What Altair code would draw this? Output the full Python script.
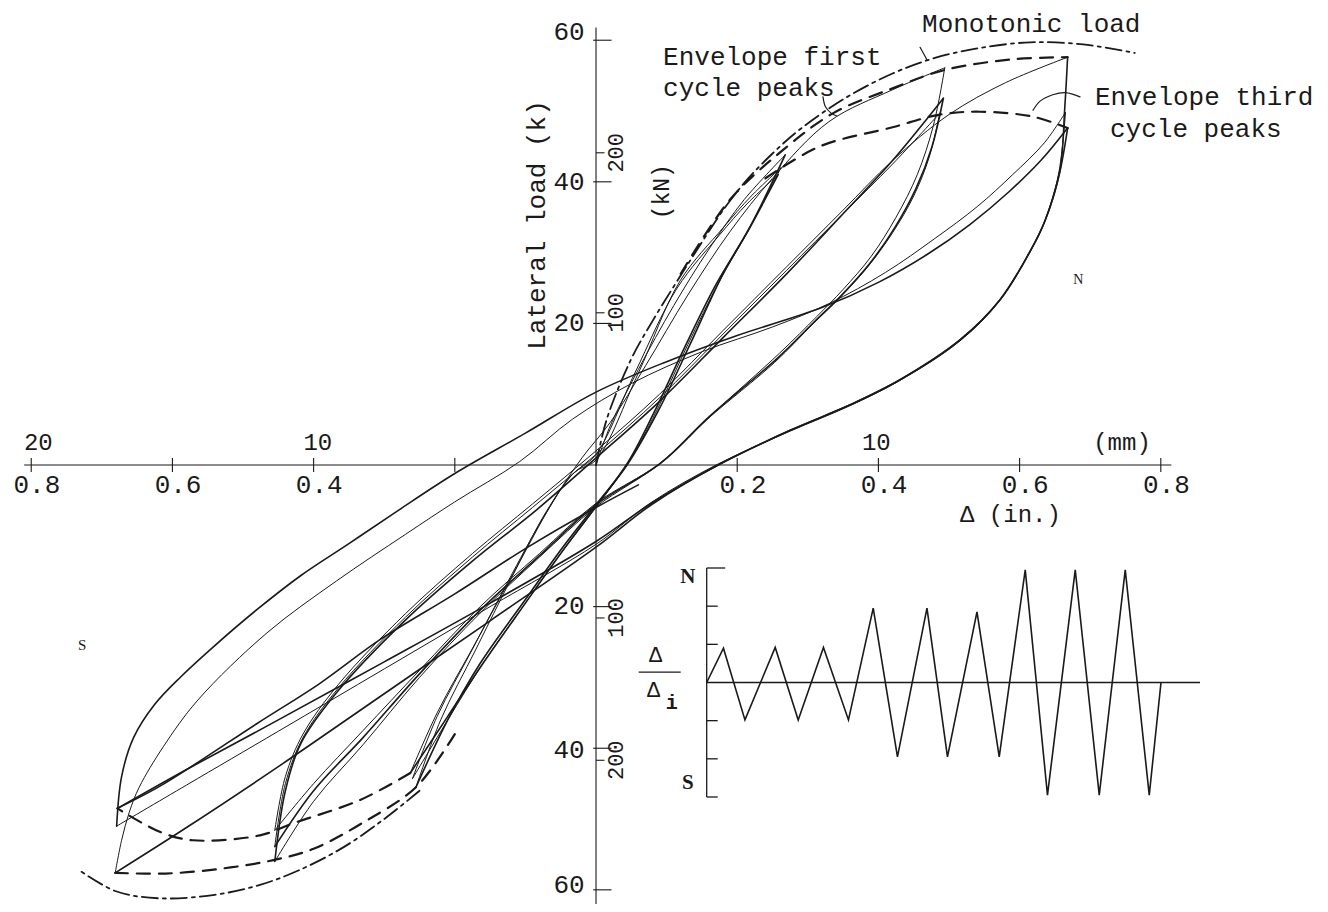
import altair as alt
import pandas as pd

# ---------------- data (inches, kips) ----------------
# hysteresis branches: (name, style, displacement [in], load [kips])
branches = [
    ("s_up1", "thin", [0, 0.02, 0.06, 0.11, 0.16, 0.21, 0.268],
                      [0, 5.5, 13.5, 22.5, 30.5, 37.5, 43.8]),
    ("s_dn1", "thick", [0.268, 0.22, 0.18, 0.133, 0.09, 0.044, 0, -0.05, -0.1, -0.164, -0.21, -0.255],
                       [43.8, 34, 27, 17, 8, 0, -5.6, -12, -19, -28, -36, -45.5]),
    ("s_up2", "thin", [-0.255, -0.22, -0.17, -0.12, -0.07, -0.03, 0, 0.06, 0.119, 0.18, 0.22, 0.262],
                      [-45.5, -36, -26, -16, -6.5, -1, 0.7, 13, 26, 33.5, 38, 42]),
    ("s_dn2", "thin", [0.262, 0.215, 0.175, 0.13, 0.09, 0.05, 0, -0.05, -0.1, -0.16, -0.21, -0.26],
                      [42, 33, 26, 17, 8.5, 1, -6, -12.5, -19.5, -28, -36, -44.3]),
    ("s_up3", "thin", [-0.26, -0.225, -0.175, -0.125, -0.075, -0.035, 0, 0.055, 0.115, 0.175, 0.215, 0.258],
                      [-44.3, -35.5, -26, -16.5, -7.5, -1.5, 1.5, 13, 25, 32.5, 37, 41]),
    ("s_dn3", "thick", [0.258, 0.212, 0.17, 0.125, 0.085, 0.046, 0, -0.05, -0.1, -0.16, -0.21, -0.263],
                       [41, 32.5, 25.5, 16.5, 8, 0.5, -5.8, -12.5, -19.5, -28, -35.5, -43.5]),
    ("m_up1", "thin", [-0.263, -0.225, -0.17, -0.11, -0.06, -0.02, 0.02, 0.07, 0.13, 0.19, 0.25, 0.33, 0.42, 0.494],
                      [-43.5, -35, -25, -14, -5, 1, 6, 14, 24, 33, 40.5, 48.5, 53, 56.1]),
    ("m_dn1", "thin", [0.494, 0.478, 0.455, 0.425, 0.39, 0.35, 0.313, 0.26, 0.166, 0.095, 0, -0.08, -0.164, -0.25, -0.33, -0.4, -0.455],
                      [56.1, 48, 41, 35, 29.5, 24.8, 21, 15.8, 7.3, 0.5, -5.9, -13, -20.9, -30, -39.5, -47.5, -56]),
    ("m_up2", "thick", [-0.455, -0.44, -0.418, -0.368, -0.27, -0.173, -0.085, 0, 0.09, 0.18, 0.27, 0.35, 0.42, 0.492],
                       [-56, -46, -39.3, -32.2, -21.9, -13.4, -6.4, 1, 9, 18, 27, 35.5, 43, 51.8]),
    ("m_dn2", "thick", [0.492, 0.476, 0.453, 0.423, 0.388, 0.348, 0.31, 0.256, 0.16, 0.092, 0, -0.08, -0.164, -0.25, -0.33, -0.4, -0.455],
                       [51.8, 45, 39, 33.5, 28.5, 24, 20.3, 15, 6.8, 0.3, -5.6, -12.8, -20.5, -29.5, -38.5, -46, -53.9]),
    ("m_up3", "thin", [-0.455, -0.44, -0.415, -0.365, -0.27, -0.175, -0.09, 0, 0.09, 0.18, 0.27, 0.35, 0.42, 0.487],
                      [-53.9, -45, -38.5, -31.5, -21.5, -13, -6, 1.5, 9.5, 18.5, 27.5, 35.5, 42.5, 49.7]),
    ("m_dn3", "thin", [0.487, 0.472, 0.45, 0.42, 0.385, 0.345, 0.308, 0.253, 0.158, 0.09, 0, -0.08, -0.164, -0.25, -0.33, -0.4, -0.455],
                      [49.7, 43.5, 38, 32.8, 28, 23.6, 20, 14.5, 6.5, 0.2, -5.4, -12.5, -20, -29, -37.5, -45, -51.6]),
    ("l_up1", "thin", [-0.455, -0.44, -0.415, -0.365, -0.27, -0.175, -0.09, 0, 0.09, 0.18, 0.27, 0.35, 0.42, 0.5, 0.58, 0.668],
                      [-51.6, -44, -38, -31, -21, -12.5, -5.5, 2, 10, 19, 28, 36, 43, 49.5, 54, 57.6]),
    ("l_dn1", "thick", [0.668, 0.664, 0.657, 0.636, 0.615, 0.572, 0.516, 0.43, 0.36, 0.275, 0.173, 0.08, 0, -0.15, -0.3, -0.45, -0.58, -0.681],
                       [57.6, 50.5, 41.5, 34.5, 30.2, 23.3, 17.7, 12, 8.5, 4.9, 0, -5.5, -11.6, -22, -32.3, -42.6, -51.2, -57.6]),
    ("l_up2", "thin", [-0.681, -0.672, -0.661, -0.647, -0.613, -0.564, -0.466, -0.368, -0.27, -0.2, -0.108, -0.033, 0.05, 0.15, 0.25, 0.33, 0.41, 0.48, 0.54, 0.59, 0.635, 0.665],
                      [-57.6, -53, -49, -45.5, -39.8, -33.2, -23.7, -16.4, -9.8, -5.2, 0.5, 6.5, 11.5, 16, 19.5, 22.8, 27.2, 32, 36.5, 41, 45.5, 49.8]),
    ("l_dn2", "thin", [0.665, 0.655, 0.634, 0.613, 0.57, 0.514, 0.428, 0.358, 0.273, 0.17, 0.078, 0, -0.15, -0.3, -0.45, -0.58, -0.679],
                      [49.8, 41, 34, 29.8, 23, 17.4, 11.8, 8.3, 4.7, 0, -5.3, -11.2, -20, -28.8, -37.6, -45.2, -51]),
    ("l_up3", "thick", [-0.679, -0.672, -0.655, -0.625, -0.588, -0.54, -0.48, -0.418, -0.35, -0.28, -0.2, -0.1, 0, 0.1, 0.2, 0.319, 0.4, 0.47, 0.53, 0.585, 0.63, 0.668],
                       [-51, -44, -38.5, -33.8, -29.9, -25.5, -20.4, -15.6, -11.1, -6.4, -1.2, 4.5, 10.3, 14.6, 18.3, 22.2, 25.8, 29.8, 34.0, 38.6, 43.0, 47.6]),
    ("l_dn3", "thick", [0.668, 0.656, 0.636, 0.615, 0.572, 0.516, 0.43, 0.36, 0.275, 0.173, 0.08, 0, -0.15, -0.3, -0.45, -0.58, -0.678],
                       [47.6, 41, 34.5, 30.2, 23.3, 17.7, 12, 8.5, 4.9, 0, -5.3, -10.8, -19.5, -27.8, -36, -43, -48.5]),
    ("final", "thick", [-0.678, -0.62, -0.564, -0.48, -0.392, -0.305, -0.2, -0.1, 0, 0.06],
                       [-48.5, -45.5, -42, -36.5, -30.9, -24.6, -18.2, -11.8, -6, -2.8]),
]

# envelopes and monotonic curve
mono_pos_d = [0, 0.015, 0.05, 0.081, 0.115, 0.147, 0.18, 0.214, 0.25, 0.29, 0.356, 0.42, 0.48, 0.544, 0.615, 0.69, 0.763]
mono_pos_P = [0, 6.4, 15, 20.5, 26, 31, 36, 40.3, 44, 47.5, 52, 55.3, 57.5, 58.9, 59.7, 59.4, 58.2]
mono_neg_d = [-0.25, -0.3, -0.358, -0.42, -0.476, -0.54, -0.618, -0.68, -0.731]
mono_neg_P = [-46, -50, -54, -57.2, -59.3, -60.7, -61.2, -60.2, -57.3]
env1_pos_d = [0.12, 0.19, 0.265, 0.336, 0.42, 0.494, 0.59, 0.668]
env1_pos_P = [27, 37.5, 44.5, 49.7, 53.2, 55.8, 57.3, 57.6]
env3_pos_d = [0.24, 0.317, 0.42, 0.487, 0.544, 0.619, 0.668]
env3_pos_P = [40.5, 45, 47.7, 49.5, 49.9, 49.2, 47.6]
env1_neg_d = [-0.2, -0.255, -0.33, -0.40, -0.457, -0.53, -0.61, -0.681]
env1_neg_P = [-38, -45.5, -50.5, -54.2, -55.8, -57.0, -57.7, -57.6]
env3_neg_d = [-0.263, -0.334, -0.429, -0.476, -0.571, -0.618, -0.678]
env3_neg_P = [-43.5, -47.3, -50.6, -52.3, -53, -51.8, -48.5]

# leader lines of the annotations
lead_mono_d = [0.459, 0.469]
lead_mono_P = [59.0, 57.2]
lead_first_d = [0.3215, 0.325, 0.333, 0.341]
lead_first_P = [52.0, 50.6, 49.7, 49.3]
lead_third_d = [0.6856, 0.665, 0.647, 0.629, 0.619]
lead_third_P = [52.0, 52.6, 52.3, 51.4, 50.1]

# axes
x_ticks = [-0.8, -0.6, -0.4, -0.2, 0.2, 0.4, 0.6, 0.8]
x_labels = ["0.8", "0.6", "0.4", "", "0.2", "0.4", "0.6", "0.8"]
y_ticks = [60, 40, 20, -20, -40, -60]
y_labels = ["60", "40", "20", "20", "40", "60"]
y_label_pos = [61.2, 40, 20, -19.9, -40.3, -59.3]
kn_labels = ["200", "100", "100", "200"]
kn_pos = [44.1, 21.5, -21.6, -41.7]
mm_labels = ["20", "10", "10", "(mm)"]
mm_pos_in = [-0.79, -0.394, 0.397, 0.745]

# inset: loading history
hist_t = [0, 0.67, 1.53, 2.74, 3.66, 4.67, 5.67, 6.66, 7.63, 8.81, 9.63, 10.81, 11.7,
          12.74, 13.63, 14.74, 15.7, 16.74, 17.7, 18.17]
hist_v = [0, 0.9, -0.98, 0.92, -0.98, 0.92, -0.98, 1.95, -1.95, 1.95, -1.95, 1.85, -1.95,
          2.95, -2.95, 2.95, -2.95, 2.95, -2.95, 0]
bracket_ticks = [3, 2, 1, -1, -2, -3]
bracket_len = [0.74, 0.44, 0.44, 0.44, 0.44, 0.44]

# ---------------- build tables ----------------
rows = []
for name, style, ds, ps in branches:
    for i, (d, p) in enumerate(zip(ds, ps)):
        rows.append(dict(seg=name, style=style, i=i, d=d, P=p))
curves = [("mono_p", "mono", mono_pos_d, mono_pos_P), ("mono_n", "mono", mono_neg_d, mono_neg_P),
          ("e1p", "env", env1_pos_d, env1_pos_P), ("e3p", "env", env3_pos_d, env3_pos_P),
          ("e1n", "env", env1_neg_d, env1_neg_P), ("e3n", "env", env3_neg_d, env3_neg_P),
          ("lm", "lead", lead_mono_d, lead_mono_P), ("lf", "lead", lead_first_d, lead_first_P),
          ("lt", "lead", lead_third_d, lead_third_P)]
for name, style, ds, ps in curves:
    for i, (d, p) in enumerate(zip(ds, ps)):
        rows.append(dict(seg=name, style=style, i=i, d=d, P=p))
df = pd.DataFrame(rows)

X = alt.Scale(domain=[-0.8329, 1.0255], nice=False, zero=False)
Y = alt.Scale(domain=[-62.0, 64.55], nice=False, zero=False)
INK = "#1a1a1a"
FONT = "Liberation Mono"


def line_layer(style, width, dash=None):
    kw = dict(color=INK, strokeWidth=width, interpolate="catmull-rom", strokeCap="round")
    if dash:
        kw["strokeDash"] = dash
    return alt.Chart(df[df["style"] == style]).mark_line(**kw).encode(
        x=alt.X("d:Q", scale=X, axis=None),
        y=alt.Y("P:Q", scale=Y, axis=None),
        detail="seg:N",
        order="i:Q",
    )


layers = [
    line_layer("thin", 1.0),
    line_layer("thick", 1.6),
    line_layer("env", 2.2, [13, 9]),
    line_layer("mono", 1.8, [16, 5, 3, 5]),
    line_layer("lead", 1.2),
]

# axis lines and ticks
rules = pd.DataFrame([
    dict(d=-0.81, d2=0.815, P=0, P2=0),
    dict(d=0, d2=0, P=-62, P2=61.8),
] + [dict(d=t, d2=t, P=-1.0, P2=1.0) for t in x_ticks]
  + [dict(d=-0.004, d2=0.022, P=t, P2=t) for t in y_ticks]
  + [dict(d=0.0, d2=0.012, P=p, P2=p) for p in kn_pos])
layers.append(alt.Chart(rules).mark_rule(color=INK, strokeWidth=1.1).encode(
    x=alt.X("d:Q", scale=X, axis=None), x2="d2:Q",
    y=alt.Y("P:Q", scale=Y, axis=None), y2="P2:Q"))


def text_layer(tdf, size, align="center", baseline="middle", angle=0, font=FONT, weight="normal"):
    return alt.Chart(tdf).mark_text(font=font, fontSize=size, align=align, baseline=baseline,
                                    angle=angle, color=INK, fontWeight=weight).encode(
        x=alt.X("d:Q", scale=X, axis=None),
        y=alt.Y("P:Q", scale=Y, axis=None),
        text="t:N")


xl = pd.DataFrame(dict(d=[t + 0.008 for t in x_ticks], P=[-1.0] * len(x_ticks), t=x_labels))
xl = xl[xl["t"] != ""]
layers.append(text_layer(xl, 26, baseline="top"))
yl = pd.DataFrame(dict(d=[-0.016] * len(y_labels), P=y_label_pos, t=y_labels))
layers.append(text_layer(yl, 26, align="right"))
kl = pd.DataFrame(dict(d=[0.029] * len(kn_labels), P=kn_pos, t=kn_labels))
layers.append(text_layer(kl, 22, angle=270))
ml = pd.DataFrame(dict(d=mm_pos_in, P=[3.1] * len(mm_labels), t=mm_labels))
layers.append(text_layer(ml, 24))

layers.append(text_layer(pd.DataFrame(dict(d=[-0.0836], P=[33.9], t=["Lateral load (k)"])), 26, angle=270))
layers.append(text_layer(pd.DataFrame(dict(d=[0.0935], P=[38.6], t=["(kN)"])), 23, angle=270))
layers.append(text_layer(pd.DataFrame(dict(d=[0.5156], P=[-5.3], t=["Δ (in.)"])), 24,
                         align="left", baseline="top"))
ann = pd.DataFrame(dict(d=[0.095, 0.095, 0.4618, 0.7068, 0.728],
                        P=[57.6, 53.2, 62.3, 52.0, 47.5],
                        t=["Envelope first", "cycle peaks", "Monotonic load", "Envelope third", "cycle peaks"]))
layers.append(text_layer(ann, 26, align="left"))
layers.append(text_layer(pd.DataFrame(dict(d=[0.683], P=[26.1], t=["N"])), 14, font="Liberation Serif"))
layers.append(text_layer(pd.DataFrame(dict(d=[-0.728], P=[-25.4], t=["S"])), 15, font="Liberation Serif"))

# ---------------- inset (own scales placed in the plot area) ----------------
TX = alt.Scale(domain=[0, 19.73], range=[698.7, 1192], nice=False, zero=False)
TY = alt.Scale(domain=[-3, 3], range=[789, 560], nice=False, zero=False)
hist = pd.DataFrame(dict(t=hist_t, v=hist_v, i=list(range(len(hist_t)))))
layers.append(alt.Chart(hist).mark_line(color=INK, strokeWidth=1.6).encode(
    x=alt.X("t:Q", scale=TX, axis=None), y=alt.Y("v:Q", scale=TY, axis=None), order="i:Q"))
irules = pd.DataFrame([dict(t=0, t2=19.73, v=0, v2=0), dict(t=0, t2=0, v=-3, v2=3)]
                      + [dict(t=0, t2=L, v=b, v2=b) for b, L in zip(bracket_ticks, bracket_len)]
                      + [dict(t=-2.72, t2=-1.04, v=0.27, v2=0.27)])
layers.append(alt.Chart(irules).mark_rule(color=INK, strokeWidth=1.3).encode(
    x=alt.X("t:Q", scale=TX, axis=None), x2="t2:Q",
    y=alt.Y("v:Q", scale=TY, axis=None), y2="v2:Q"))


def inset_text(tdf, size, font=FONT, weight="normal"):
    return alt.Chart(tdf).mark_text(font=font, fontSize=size, color=INK, fontWeight=weight).encode(
        x=alt.X("t:Q", scale=TX, axis=None), y=alt.Y("v:Q", scale=TY, axis=None), text="s:N")


layers.append(inset_text(pd.DataFrame(dict(t=[-0.75, -0.75], v=[2.76, -2.63], s=["N", "S"])), 21,
                         font="Liberation Serif", weight="bold"))
layers.append(inset_text(pd.DataFrame(dict(t=[-2.04, -2.12], v=[0.72, -0.2], s=["Δ", "Δ"])), 22))
layers.append(inset_text(pd.DataFrame(dict(t=[-1.4], v=[-0.55], s=["i"])), 20, weight="bold"))

chart = alt.layer(*layers).resolve_scale(x="independent", y="independent").properties(
    width=1312, height=896,
    autosize=alt.AutoSizeParams(type="none"),
    padding=0,
    background="white",
).configure_view(stroke=None)

chart.save("out.html", embed_options={"renderer": "svg", "actions": False})
